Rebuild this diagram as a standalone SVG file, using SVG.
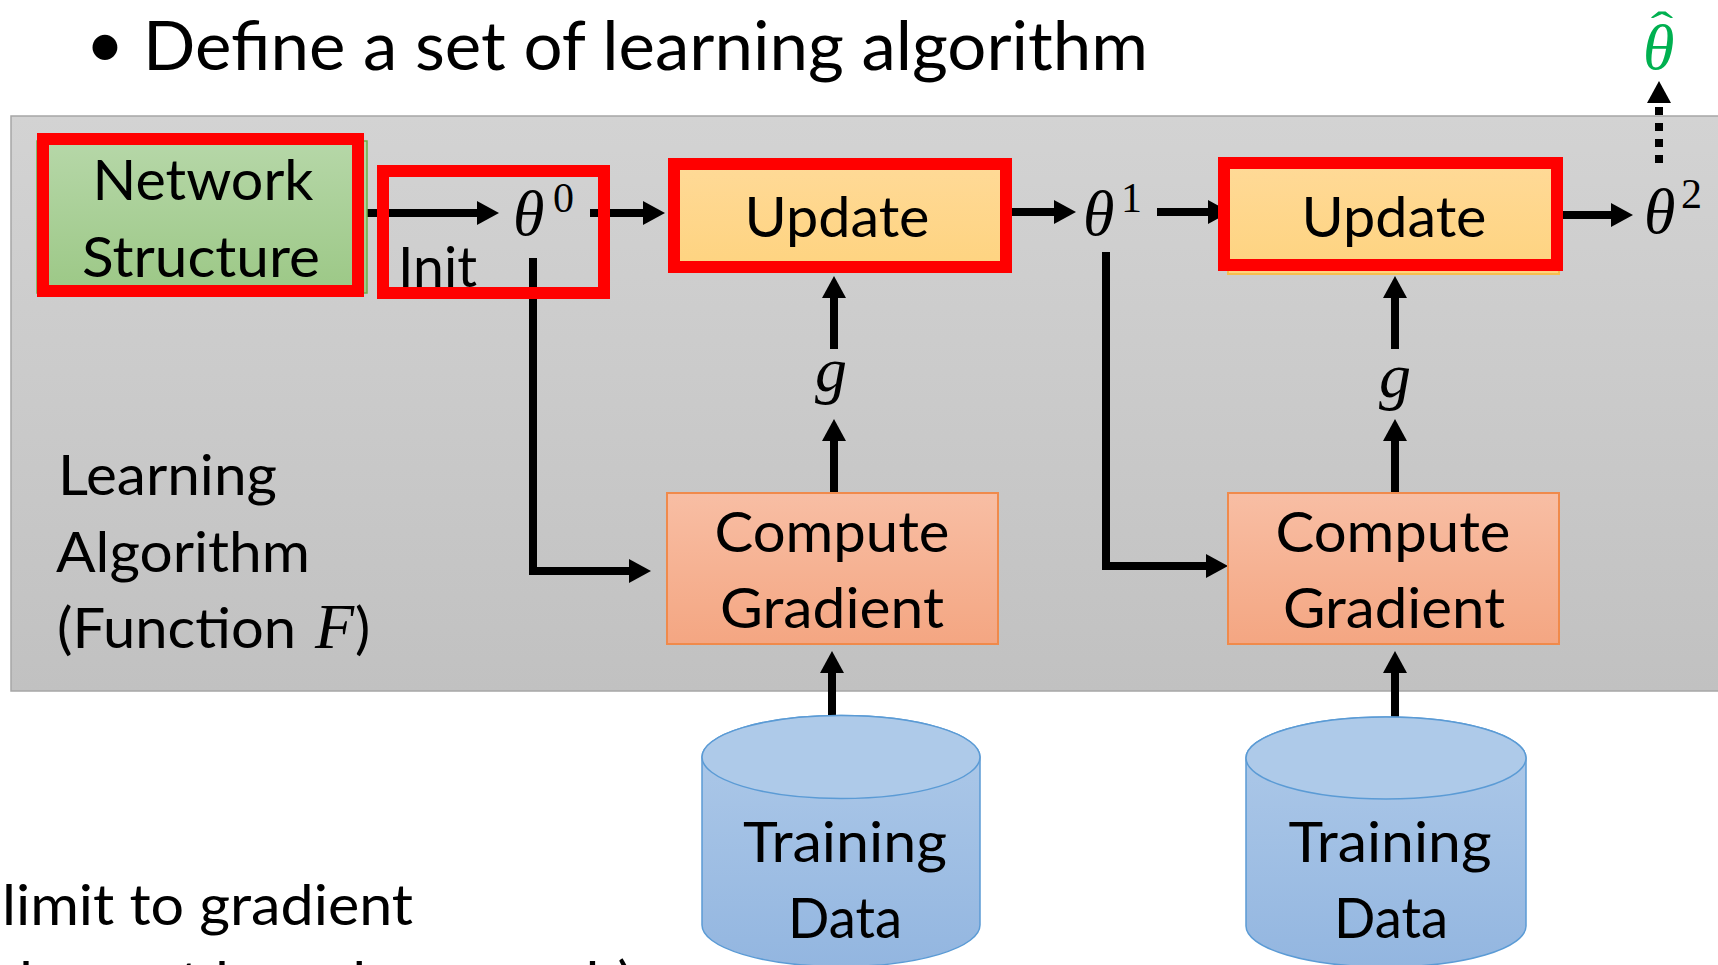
<svg xmlns="http://www.w3.org/2000/svg" width="1718" height="965" viewBox="0 0 1718 965">
<defs>
  <linearGradient id="panelG" x1="0" y1="0" x2="0" y2="1"><stop offset="0" stop-color="#D3D3D3"/><stop offset="1" stop-color="#C1C1C1"/></linearGradient>
  <linearGradient id="greenG" x1="0" y1="0" x2="0" y2="1"><stop offset="0" stop-color="#B6D7A8"/><stop offset="1" stop-color="#9CC886"/></linearGradient>
  <linearGradient id="updG" x1="0" y1="0" x2="0" y2="1"><stop offset="0" stop-color="#FFDA98"/><stop offset="1" stop-color="#FED37F"/></linearGradient>
  <linearGradient id="compG" x1="0" y1="0" x2="0" y2="1"><stop offset="0" stop-color="#F8BEA4"/><stop offset="1" stop-color="#F4A682"/></linearGradient>
  <linearGradient id="cylG" x1="0" y1="0" x2="0" y2="1"><stop offset="0" stop-color="#AFCAE9"/><stop offset="1" stop-color="#93B6E0"/></linearGradient>
  <marker id="ah" viewBox="0 0 22 24" refX="1" refY="12" markerWidth="22" markerHeight="24" markerUnits="userSpaceOnUse" orient="auto">
    <path d="M0,0 L22,12 L0,24 Z" fill="#000"/>
  </marker>
</defs>
<style>
  .t { font-family: Lato, "Liberation Sans", sans-serif; font-size: 57px; fill: #000; }
  .title { font-size: 67px; }
  .m { font-family: "Liberation Serif", serif; font-style: italic; font-size: 64px; fill: #000; }
  .sup { font-family: "Liberation Serif", serif; font-size: 42px; fill: #000; }
  .red { fill: none; stroke: #FF0000; stroke-width: 12; }
  .c { fill: none; stroke: #000; stroke-width: 8; marker-end: url(#ah); }
  .dot { stroke-dasharray: 8 8; }
  .comp { fill: url(#compG); stroke: #F08A4B; stroke-width: 2; }
  .upd { fill: url(#updG); stroke: #F6BE4F; stroke-width: 2; }
  .cyl { fill: url(#cylG); stroke: #5B9BD5; stroke-width: 1.5; }
  .cyltop { fill: #AECAE9; stroke: #5B9BD5; stroke-width: 1.5; }
  .green { fill: #00B050; }
</style>

<rect width="1718" height="965" fill="#FFFFFF"/>

<g id="title">
  <text class="t title" x="105" y="68" text-anchor="middle" font-size="58">•</text>
  <text class="t title" x="143" y="70" textLength="1005" lengthAdjust="spacingAndGlyphs">Define a set of learning algorithm</text>
</g>

<g id="panel">
  <rect x="11" y="116" width="1720" height="575" fill="url(#panelG)" stroke="#A6A6A6" stroke-width="1.5"/>
  <text class="t" x="58" y="495" textLength="219" lengthAdjust="spacingAndGlyphs">Learning</text>
  <text class="t" x="56" y="572" textLength="254" lengthAdjust="spacingAndGlyphs">Algorithm</text>
  <text class="t" x="57" y="648" textLength="239" lengthAdjust="spacingAndGlyphs">(Function</text>
  <text class="m" x="315" y="648">F</text>
  <text class="t" x="355" y="648">)</text>
</g>

<g id="connectors">
  <path class="c" d="M365,213 H478"/>
  <path class="c" d="M590,213 H644"/>
  <path class="c" d="M1012,212 H1055"/>
  <path class="c" d="M1157,212 H1209"/>
  <path class="c" d="M1563,215 H1612"/>
  <path class="c dot" d="M1659,163 V102"/>
  <path class="c" d="M533,258 V571 H630"/>
  <path class="c" d="M1106,252 V566 H1207"/>
  <path class="c" d="M834,493 V440"/>
  <path class="c" d="M834,349 V297"/>
  <path class="c" d="M1395,493 V440"/>
  <path class="c" d="M1395,349 V297"/>
  <path class="c" d="M832,747 V672"/>
  <path class="c" d="M1395,747 V672"/>
</g>

<g id="network-structure">
  <rect x="37" y="141" width="330" height="152" fill="url(#greenG)" stroke="#70AD47" stroke-width="1.5"/>
  <rect class="red" x="43" y="139" width="315" height="152"/>
  <text class="t" x="203" y="200" text-anchor="middle" textLength="221" lengthAdjust="spacingAndGlyphs">Network</text>
  <text class="t" x="201" y="277" text-anchor="middle" textLength="238" lengthAdjust="spacingAndGlyphs">Structure</text>
</g>

<g id="init">
  <rect class="red" x="383" y="171" width="221" height="122"/>
  <text class="t" x="398" y="287" textLength="79" lengthAdjust="spacingAndGlyphs">Init</text>
</g>

<g id="theta0">
  <text class="m" x="513" y="235">θ</text>
  <text class="sup" x="553" y="212">0</text>
</g>

<g id="update1">
  <rect class="upd" x="670" y="160" width="340" height="112"/>
  <rect class="red" x="674" y="164" width="332" height="103"/>
  <text class="t" x="837" y="237" text-anchor="middle" textLength="185" lengthAdjust="spacingAndGlyphs">Update</text>
</g>

<g id="theta1">
  <text class="m" x="1083" y="235">θ</text>
  <text class="sup" x="1121" y="212">1</text>
</g>

<g id="update2">
  <rect class="upd" x="1228" y="160" width="331" height="114"/>
  <rect class="red" x="1224" y="163" width="333" height="102"/>
  <text class="t" x="1394" y="237" text-anchor="middle" textLength="185" lengthAdjust="spacingAndGlyphs">Update</text>
</g>

<g id="theta2">
  <text class="m" x="1644" y="233">θ</text>
  <text class="sup" x="1681" y="208">2</text>
</g>

<g id="theta-hat">
  <text class="m green" x="1643" y="69">θ</text>
  <text class="sup green" transform="translate(1662,41) scale(1.6,1)" x="0" y="0" text-anchor="middle" font-size="84">ˆ</text>
</g>

<g id="g1">
  <text class="m" x="831" y="391" text-anchor="middle">g</text>
</g>
<g id="g2">
  <text class="m" x="1395" y="397" text-anchor="middle">g</text>
</g>

<g id="compute1">
  <rect class="comp" x="667" y="493" width="331" height="151"/>
  <text class="t" x="832" y="552" text-anchor="middle" textLength="235" lengthAdjust="spacingAndGlyphs">Compute</text>
  <text class="t" x="832" y="628" text-anchor="middle" textLength="224" lengthAdjust="spacingAndGlyphs">Gradient</text>
</g>

<g id="compute2">
  <rect class="comp" x="1228" y="493" width="331" height="151"/>
  <text class="t" x="1393" y="552" text-anchor="middle" textLength="235" lengthAdjust="spacingAndGlyphs">Compute</text>
  <text class="t" x="1394" y="628" text-anchor="middle" textLength="222" lengthAdjust="spacingAndGlyphs">Gradient</text>
</g>

<g id="data1">
  <path class="cyl" d="M702,757 V925 A139,41.5 0 0 0 980,925 V757 A139,41.5 0 0 0 702,757 Z"/>
  <ellipse class="cyltop" cx="841" cy="757" rx="139" ry="41.5"/>
  <text class="t" x="845" y="862" text-anchor="middle" textLength="204" lengthAdjust="spacingAndGlyphs">Training</text>
  <text class="t" x="845" y="938" text-anchor="middle" textLength="114" lengthAdjust="spacingAndGlyphs">Data</text>
</g>

<g id="data2">
  <path class="cyl" d="M1246,758 V926 A140,41 0 0 0 1526,926 V758 A140,41 0 0 0 1246,758 Z"/>
  <ellipse class="cyltop" cx="1386" cy="758" rx="140" ry="41"/>
  <text class="t" x="1390" y="862" text-anchor="middle" textLength="203" lengthAdjust="spacingAndGlyphs">Training</text>
  <text class="t" x="1391" y="938" text-anchor="middle" textLength="114" lengthAdjust="spacingAndGlyphs">Data</text>
</g>

<g id="footnote">
  <text class="t" x="2" y="925" textLength="411" lengthAdjust="spacingAndGlyphs">limit to gradient</text>
  <text class="t" x="0" y="1002" textLength="633" lengthAdjust="spacingAndGlyphs">descent based approach)</text>
</g>
</svg>
